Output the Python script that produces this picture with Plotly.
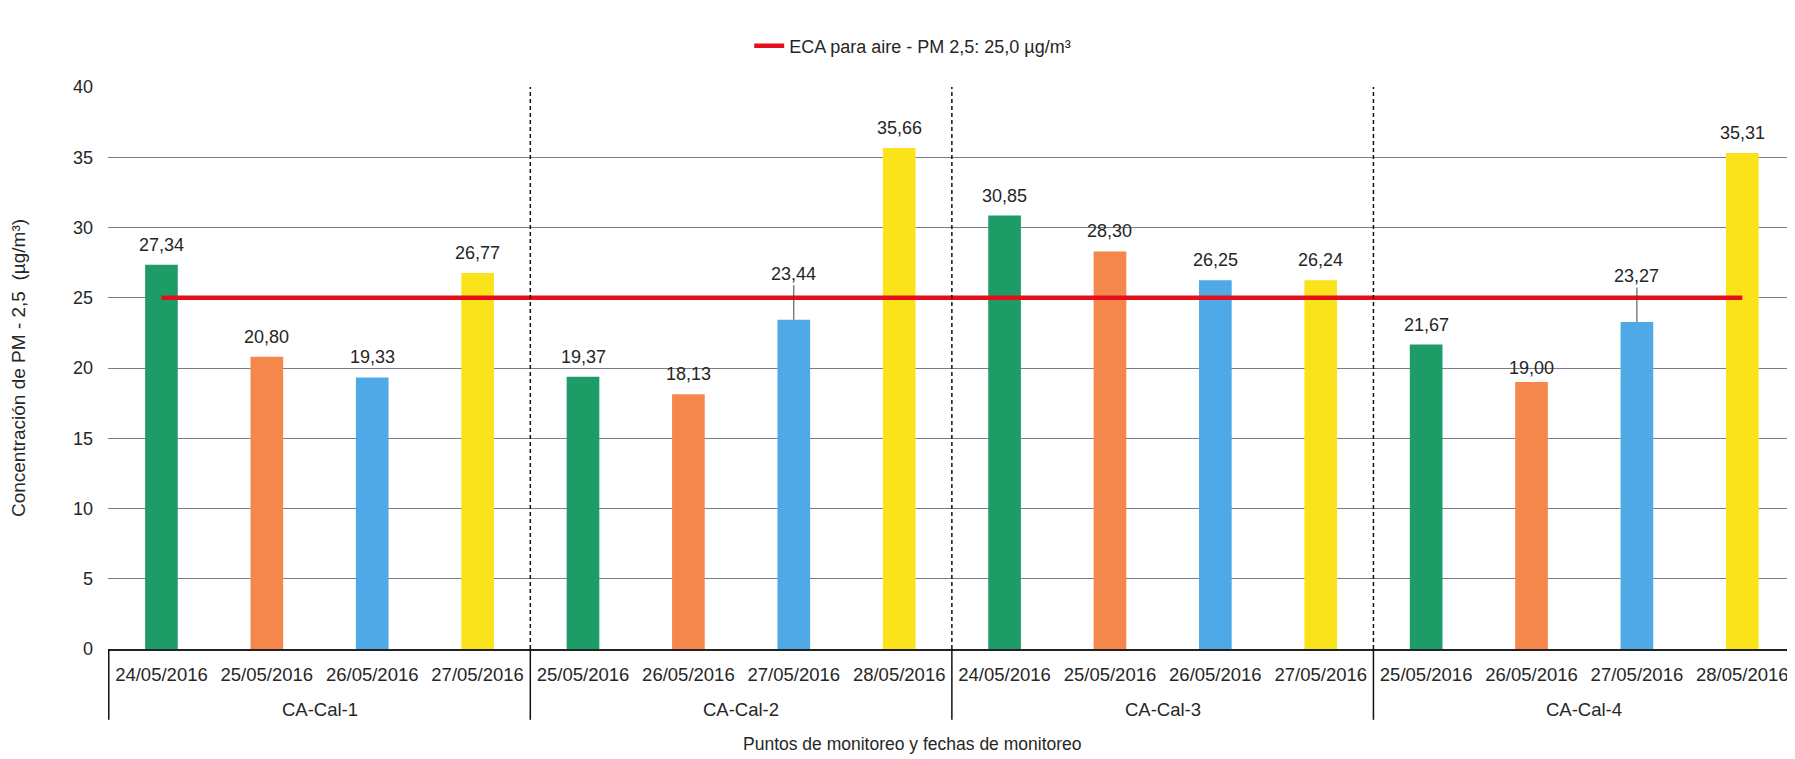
"""Concentración de PM-2,5 por punto y fecha de monitoreo: barras con ECA de referencia"""

import plotly.graph_objects as go

# ── datos ──
puntos = ["CA-Cal-1"] * 4 + ["CA-Cal-2"] * 4 + ["CA-Cal-3"] * 4 + ["CA-Cal-4"] * 4
fechas = [
    "24/05/2016", "25/05/2016", "26/05/2016", "27/05/2016",
    "25/05/2016", "26/05/2016", "27/05/2016", "28/05/2016",
    "24/05/2016", "25/05/2016", "26/05/2016", "27/05/2016",
    "25/05/2016", "26/05/2016", "27/05/2016", "28/05/2016",
]
pm25 = [
    27.34, 20.80, 19.33, 26.77,
    19.37, 18.13, 23.44, 35.66,
    30.85, 28.30, 26.25, 26.24,
    21.67, 19.00, 23.27, 35.31,
]
eca_pm25 = 25.0
eca_nombre = "ECA para aire - PM 2,5: 25,0 µg/m³"

# etiquetas que se elevan por encima de la línea del ECA (con línea guía)
etiquetas_elevadas = {6, 14}
# etiqueta que queda más pegada a la barra
etiquetas_bajas = {13}

COLORES = ["#1e9c68", "#f5864c", "#4fa9e6", "#fbe31c"]
FUENTE = "Arial, Liberation Sans, sans-serif"
TEXTO = "#262626"

# clave única por barra (la misma fecha se repite en varios puntos)
claves = [f"{p} | {f}" for p, f in zip(puntos, fechas)]
colores_barras = [COLORES[i % 4] for i in range(len(pm25))]

fig = go.Figure()

# ── barras ──
fig.add_trace(
    go.Bar(
        x=claves,
        y=pm25,
        marker=dict(color=colores_barras, line=dict(width=0)),
        showlegend=False,
        hovertext=[f"{p} {f}" for p, f in zip(puntos, fechas)],
    )
)

# ── línea del ECA ──
fig.add_trace(
    go.Scatter(
        x=claves,
        y=[eca_pm25] * len(pm25),
        mode="lines",
        name=eca_nombre,
        line=dict(color="#e3101c", width=4.5),
    )
)

# ── etiquetas de valores ──
for i, v in enumerate(pm25):
    texto = f"{v:.2f}".replace(".", ",")
    if i in etiquetas_elevadas:
        fig.add_annotation(
            x=i, y=v, text=texto, showarrow=True, arrowhead=0,
            arrowwidth=1, arrowcolor="#444", ax=0, ay=-46,
            font=dict(size=18, color=TEXTO, family=FUENTE),
        )
    else:
        fig.add_annotation(
            x=i, y=v, text=texto, showarrow=False, yanchor="bottom",
            yshift=2 if i in etiquetas_bajas else 8,
            font=dict(size=18, color=TEXTO, family=FUENTE),
        )

# ── nombres de los puntos y separadores ──
grupos = []
for i, p in enumerate(puntos):
    if not grupos or grupos[-1][0] != p:
        grupos.append([p, i, i])
    else:
        grupos[-1][2] = i

for nombre, ini, fin in grupos:
    fig.add_annotation(
        x=(ini + fin) / 2, xref="x", y=-0.107, yref="paper", yanchor="middle",
        text=nombre, showarrow=False,
        font=dict(size=18.5, color=TEXTO, family=FUENTE),
    )
    # separador sólido bajo el eje
    fig.add_shape(
        type="line", xref="x", yref="paper", x0=ini - 0.5, x1=ini - 0.5,
        y0=0, y1=-0.126, line=dict(color="#111", width=1.5),
    )
    # separador punteado dentro del área de trazado
    if ini > 0:
        fig.add_shape(
            type="line", xref="x", yref="y", x0=ini - 0.5, x1=ini - 0.5,
            y0=0, y1=40, line=dict(color="#111", width=1.5, dash="4px,3px"),
            layer="above",
        )

# título del eje x (el área original estaba recortada a la derecha)
fig.add_annotation(
    xref="paper", yref="paper", x=0.477, y=-0.169, yanchor="middle",
    text="Puntos de monitoreo y fechas de monitoreo", showarrow=False,
    font=dict(size=17.5, color=TEXTO, family=FUENTE),
)

fig.update_layout(
    width=1787,
    height=751,
    margin=dict(l=100, r=0, t=79, b=110),
    paper_bgcolor="white",
    plot_bgcolor="white",
    font=dict(family=FUENTE, size=18, color=TEXTO),
    bargap=0.69,
    legend=dict(
        orientation="h", x=0.477, xanchor="center", y=1.073, yanchor="middle",
        font=dict(size=18, color=TEXTO), bgcolor="rgba(0,0,0,0)",
    ),
)

fig.update_xaxes(
    type="category",
    tickmode="array", tickvals=claves, ticktext=fechas,
    showline=True, linecolor="#222", linewidth=1.5,
    showgrid=False, ticks="", ticklabelstandoff=8,
    tickfont=dict(size=18.5, color=TEXTO),
)

fig.update_yaxes(
    range=[0, 40], dtick=5,
    showgrid=True, gridcolor="#7c7c8c", gridwidth=1,
    zeroline=False, showline=False, ticks="",
    ticklabelstandoff=14,
    tickfont=dict(size=18, color=TEXTO),
    title=dict(
        text="Concentración de PM - 2,5  (µg/m³)",
        font=dict(size=19, color=TEXTO), standoff=42,
    ),
)

fig.write_html("out.html")
